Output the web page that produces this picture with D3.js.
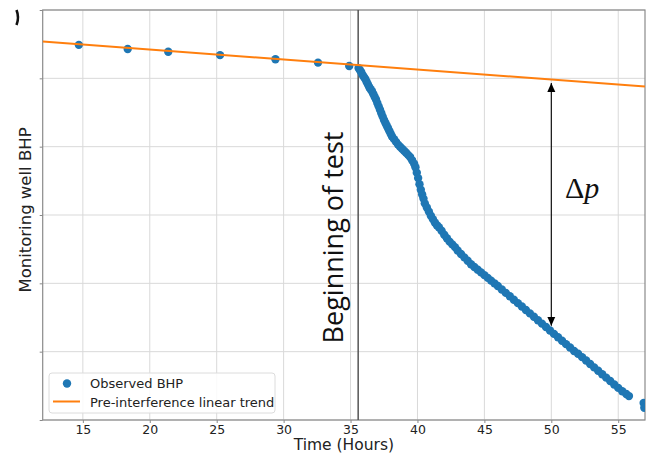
<!DOCTYPE html>
<html>
<head>
<meta charset="utf-8">
<script src="https://cdn.jsdelivr.net/npm/d3@7"></script>
<style>
  html, body { margin: 0; padding: 0; background: #fff; }
  svg { display: block; }
</style>
</head>
<body>
<svg id="chart" width="647" height="458"></svg>
<script>
// ---------------- data ----------------
const xDomain = [12, 57];
const yDomain = [0, 6];
const xTicks = [15, 20, 25, 30, 35, 40, 45, 50, 55];
const yTicks = [0, 1, 2, 3, 4, 5, 6];
const yTickLabels = ["", "", "", "", "", "", ""];

// observed BHP before the test (relative units)
const preT = [14.70, 18.35, 21.38, 25.25, 29.39, 32.57, 34.90];
const preV = [5.49, 5.43, 5.39, 5.34, 5.28, 5.23, 5.18];

// observed BHP during the test
const testT = [35.60, 35.70, 35.80, 35.90, 36.00, 36.10, 36.20, 36.30, 36.40, 36.50,
  36.60, 36.70, 36.80, 36.90, 37.00, 37.10, 37.20, 37.30, 37.40, 37.50,
  37.60, 37.70, 37.80, 37.90, 38.00, 38.10, 38.25, 38.40, 38.55, 38.70,
  38.85, 39.00, 39.15, 39.30, 39.45, 39.60, 39.75, 39.85, 39.95, 40.05,
  40.15, 40.25, 40.35, 40.45, 40.55, 40.70, 40.85, 41.00, 41.15, 41.30,
  41.45, 41.60, 41.80, 42.00, 42.20, 42.40, 42.60, 42.80, 43.00, 43.25,
  43.50, 43.75, 44.00, 44.25, 44.50, 44.75, 45.00, 45.25, 45.50, 45.75,
  46.00, 46.30, 46.60, 46.90, 47.20, 47.50, 47.80, 48.10, 48.40, 48.70,
  49.00, 49.30, 49.60, 49.90, 50.20, 50.50, 50.80, 51.10, 51.40, 51.70,
  52.00, 52.30, 52.60, 52.90, 53.20, 53.50, 53.80, 54.10, 54.40, 54.70,
  55.00, 55.30, 55.60, 55.80, 56.90, 56.95];
const testV = [5.15, 5.12, 5.09, 5.05, 5.02, 4.99, 4.95, 4.91, 4.87, 4.84,
  4.81, 4.77, 4.73, 4.69, 4.64, 4.59, 4.54, 4.49, 4.44, 4.39,
  4.35, 4.31, 4.27, 4.23, 4.19, 4.15, 4.11, 4.07, 4.03, 4.00,
  3.97, 3.94, 3.91, 3.88, 3.85, 3.80, 3.75, 3.70, 3.62, 3.54,
  3.45, 3.37, 3.30, 3.24, 3.17, 3.11, 3.05, 2.99, 2.94, 2.89,
  2.85, 2.82, 2.77, 2.71, 2.66, 2.61, 2.57, 2.53, 2.48, 2.43,
  2.38, 2.33, 2.28, 2.24, 2.20, 2.16, 2.12, 2.08, 2.04, 2.00,
  1.96, 1.91, 1.86, 1.81, 1.76, 1.71, 1.66, 1.61, 1.56, 1.51,
  1.46, 1.41, 1.36, 1.31, 1.26, 1.21, 1.16, 1.11, 1.06, 1.01,
  0.97, 0.92, 0.87, 0.82, 0.77, 0.72, 0.67, 0.62, 0.57, 0.52,
  0.47, 0.42, 0.38, 0.35, 0.25, 0.18];

// pre-interference linear trend (end points)
const trendT = [12, 57];
const trendV = [5.54, 4.88];

// annotations
const testStart = 35.57;
const arrowT = 50;
const arrowV = [4.93, 1.38];

const legendLabels = ["Observed BHP", "Pre-interference linear trend"];
const xLabel = "Time (Hours)";
const yLabel = "Monitoring well BHP";
const testLabel = "Beginning of test";

// ---------------- drawing ----------------
const W = 647, H = 458;
const margin = {left: 42.7, top: 10, right: 2, bottom: 38};
const iw = W - margin.left - margin.right;
const ih = H - margin.top - margin.bottom;

const svg = d3.select("#chart");
const x = d3.scaleLinear().domain(xDomain).range([0, iw]);
const y = d3.scaleLinear().domain(yDomain).range([ih, 0]);

const defs = svg.append("defs");
defs.append("clipPath").attr("id", "clip")
  .append("rect").attr("x", 0).attr("y", 0).attr("width", iw).attr("height", ih);
defs.append("marker").attr("id", "ah")
  .attr("viewBox", "0 0 10 10").attr("refX", 10).attr("refY", 5)
  .attr("markerWidth", 9).attr("markerHeight", 9).attr("markerUnits", "userSpaceOnUse")
  .attr("orient", "auto-start-reverse")
  .append("path").attr("d", "M0,0.5 L10,5 L0,9.5 Z").attr("fill", "#000");

// small artifact in top-left corner
svg.append("path").attr("d", "M16.5,10 Q19.5,17.5 16.5,25")
  .attr("fill", "none").attr("stroke", "#111").attr("stroke-width", 2.6);

const g = svg.append("g").attr("transform", `translate(${margin.left},${margin.top})`);

// grid
g.append("g").selectAll("line").data(xTicks).join("line")
  .attr("x1", d => x(d)).attr("x2", d => x(d)).attr("y1", 0).attr("y2", ih)
  .attr("stroke", "#d9d9d9").attr("stroke-width", 1);
g.append("g").selectAll("line").data(yTicks).join("line")
  .attr("x1", 0).attr("x2", iw).attr("y1", d => y(d)).attr("y2", d => y(d))
  .attr("stroke", "#d9d9d9").attr("stroke-width", 1);

// axes
const xAxis = g.append("g").attr("transform", `translate(0,${ih})`)
  .call(d3.axisBottom(x).tickValues(xTicks).tickSize(3).tickPadding(2).tickFormat(d3.format("d")));
const yAxis = g.append("g")
  .call(d3.axisLeft(y).tickValues(yTicks).tickSize(3).tickFormat((d, i) => yTickLabels[i]));
[xAxis, yAxis].forEach(a => {
  a.select(".domain").remove();
  a.selectAll("line").attr("stroke", "#888");
  a.selectAll("text").attr("fill", "#222").style("font-family", "DejaVu Sans")
    .style("font-size", "12.5px");
});

// frame
g.append("rect").attr("x", 0).attr("y", 0).attr("width", iw).attr("height", ih)
  .attr("fill", "none").attr("stroke", "#8a8a8a").attr("stroke-width", 1.2);

const plot = g.append("g").attr("clip-path", "url(#clip)");

// beginning-of-test line
plot.append("line")
  .attr("x1", x(testStart)).attr("x2", x(testStart)).attr("y1", 0).attr("y2", ih)
  .attr("stroke", "#555").attr("stroke-width", 1.5);

// observed points
const obs = preT.map((t, i) => ({t, v: preV[i]}))
  .concat(testT.map((t, i) => ({t, v: testV[i]})));
plot.append("g").selectAll("circle").data(obs).join("circle")
  .attr("cx", d => x(d.t)).attr("cy", d => y(d.v)).attr("r", 4.2)
  .attr("fill", "#1f77b4");

// trend line
const trend = trendT.map((t, i) => ({t, v: trendV[i]}));
plot.append("path").datum(trend)
  .attr("d", d3.line().x(d => x(d.t)).y(d => y(d.v)))
  .attr("fill", "none").attr("stroke", "#ff7f0e").attr("stroke-width", 2);

// delta-p arrow
g.append("line")
  .attr("x1", x(arrowT)).attr("x2", x(arrowT))
  .attr("y1", y(arrowV[0])).attr("y2", y(arrowV[1]))
  .attr("stroke", "#000").attr("stroke-width", 1.1)
  .attr("marker-start", "url(#ah)").attr("marker-end", "url(#ah)");

const dp = g.append("text")
  .attr("x", 565 - margin.left).attr("y", 198 - margin.top)
  .style("font-family", "Liberation Serif").style("font-size", "30px").attr("fill", "#111");
dp.append("tspan").text("Δ");
dp.append("tspan").style("font-style", "italic").text("p");

// beginning of test label
g.append("text")
  .attr("transform", `translate(${343 - margin.left},${237.5 - margin.top}) rotate(-90)`)
  .attr("text-anchor", "middle")
  .style("font-family", "Open Sans").style("font-size", "27px").attr("fill", "#111")
  .text(testLabel);

// axis labels
svg.append("text").attr("x", margin.left + iw / 2).attr("y", 450)
  .attr("text-anchor", "middle").style("font-family", "DejaVu Sans")
  .style("font-size", "15.5px").attr("fill", "#222").text(xLabel);
svg.append("text").attr("transform", "translate(31,210) rotate(-90)")
  .attr("text-anchor", "middle").style("font-family", "DejaVu Sans")
  .style("font-size", "16.5px").attr("fill", "#222").text(yLabel);

// legend
const lg = svg.append("g");
lg.append("rect").attr("x", 49).attr("y", 373).attr("width", 226).attr("height", 40)
  .attr("rx", 3).attr("fill", "#fff").attr("fill-opacity", 0.85)
  .attr("stroke", "#dcdcdc").attr("stroke-width", 1);
lg.append("circle").attr("cx", 67).attr("cy", 383.5).attr("r", 4.2).attr("fill", "#1f77b4");
lg.append("line").attr("x1", 53).attr("x2", 80).attr("y1", 401.5).attr("y2", 401.5)
  .attr("stroke", "#ff7f0e").attr("stroke-width", 2);
lg.selectAll("text.lt").data(legendLabels).join("text").attr("class", "lt")
  .attr("x", 90).attr("y", (d, i) => 388 + i * 18.5)
  .style("font-family", "DejaVu Sans").style("font-size", "13px").attr("fill", "#222")
  .text(d => d);
</script>
</body>
</html>
